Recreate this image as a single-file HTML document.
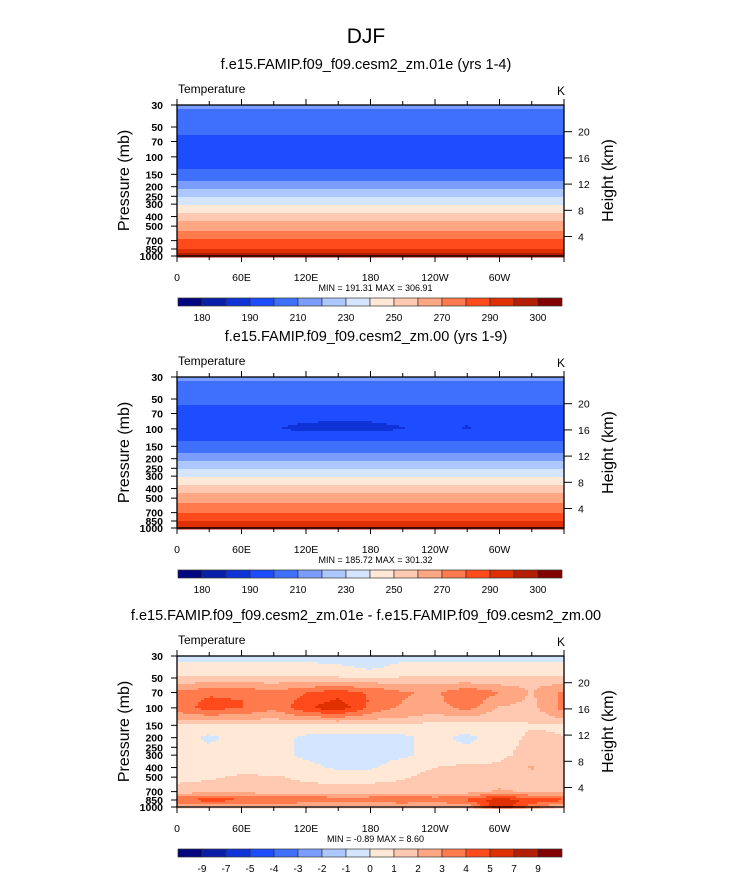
<!DOCTYPE html>
<html><head><meta charset="utf-8">
<style>
html,body{margin:0;padding:0;background:#fff;}
svg text{font-family:"Liberation Sans",sans-serif;fill:#000;}
</style></head>
<body>
<svg id="fig" width="733" height="872" viewBox="0 0 733 872" xmlns="http://www.w3.org/2000/svg">
<text x="366" y="43" font-size="21" text-anchor="middle">DJF</text>
</svg>
<script>
// ---- data ----
const lons = [0,30,60,90,120,150,180,210,240,270,300,330,360];
const levels = [30,40,50,60,70,85,100,125,150,200,300,400,500,700,850,1000];
const bounds1 = [180,185,190,200,210,220,230,240,250,260,270,280,290,295,300];
const bounds3 = [-9,-7,-5,-4,-3,-2,-1,0,1,2,3,4,5,7,9];
const cbLabels1 = ["180","190","210","230","250","270","290","300"];
const cbLabelIdx1 = [0,2,4,6,8,10,12,14];
const cbLabels3 = ["-9","-7","-5","-4","-3","-2","-1","0","1","2","3","4","5","7","9"];
const cbLabelIdx3 = [0,1,2,3,4,5,6,7,8,9,10,11,12,13,14];
const colors = ["#03067f","#0a1fa8","#0f33d7","#1e4cff","#3e6ffd","#7a9dff","#adc8ff","#d4e6ff","#ffe8d6","#ffc8b0","#ffa682","#ff7a4d","#ff4a1c","#e03000","#b41e05","#820000"];
const profile1 = [212,206,203,200,197,195,195,199,203,218,239,255,266,281,291,297];
const profile2 = [211.5,205.5,202.5,199.5,196.5,194.5,194.5,198.5,202.5,217.5,238.5,254.5,265.5,280.5,290.5,296];
const anom2at100 = [0,0,-1,-4,-7,-8,-7.5,-5,-1,-5.5,0,0,0];
const diff3 = [
[-0.3,-0.3,-0.3,-0.3,-0.3,-0.4,-0.5,-0.3,-0.3,-0.3,-0.3,-0.3,-0.3],
[0.4,0.4,0.4,0.4,0.3,0.2,-0.1,0.3,0.4,0.4,0.4,0.4,0.4],
[1.2,1.2,1.2,1.2,1.2,1.1,1.0,1.1,1.2,1.2,1.2,1.2,1.2],
[2.4,2.5,2.6,2.4,2.7,2.9,2.6,2.4,2.3,2.5,2.1,1.8,2.3],
[3.2,3.8,3.8,3.2,4.0,4.6,3.8,3.1,2.8,3.9,3.0,1.9,3.2],
[3.4,4.2,4.0,3.3,4.4,5.2,3.9,3.0,2.7,3.7,2.4,1.8,3.3],
[3.5,4.4,4.0,3.2,4.8,5.8,3.7,2.8,2.4,3.4,1.9,1.7,3.4],
[2.4,2.6,2.5,2.2,2.8,3.0,2.4,2.0,1.7,1.9,1.4,1.3,2.2],
[0.7,0.6,0.6,0.7,0.7,0.8,0.7,0.6,0.7,0.6,0.7,0.9,0.9],
[0.4,-0.2,0.3,0.4,-0.2,-0.3,-0.3,-0.2,0.3,-0.3,0.5,1.2,1.0],
[0.4,0.4,0.5,0.3,-0.2,-0.4,-0.4,-0.2,0.4,0.5,0.7,1.5,1.0],
[0.4,0.4,0.5,0.5,0.3,-0.2,-0.2,0.6,1.0,1.2,1.2,2.1,1.2],
[0.7,0.8,1.2,1.1,0.8,0.6,0.7,0.9,1.3,1.3,1.2,1.6,1.0],
[1.4,1.7,1.6,1.5,1.4,1.4,1.4,1.4,1.5,1.5,2.2,1.8,1.6],
[4.2,4.4,4.3,4.2,4.1,3.8,3.9,4.2,3.8,4.3,5.8,4.6,4.3],
[1.5,2.0,1.7,1.5,1.5,1.5,1.5,1.5,1.5,2.0,6.0,3.5,1.5]];
const pTicks = [30,50,70,100,150,200,250,300,400,500,700,850,1000];
const hTicks = [4,8,12,16,20];
const xTickLabels = ["0","60E","120E","180","120W","60W"];
const subtitles = ["f.e15.FAMIP.f09_f09.cesm2_zm.01e (yrs 1-4)","f.e15.FAMIP.f09_f09.cesm2_zm.00 (yrs 1-9)","f.e15.FAMIP.f09_f09.cesm2_zm.01e - f.e15.FAMIP.f09_f09.cesm2_zm.00"];
const minmax = ["MIN = 191.31  MAX = 306.91","MIN = 185.72  MAX = 301.32","MIN =  -0.89  MAX =   8.60"];

function grid1(){return levels.map((l,i)=>lons.map(()=>profile1[i]));}
function grid2(){return levels.map((l,i)=>lons.map((x,j)=>profile2[i]+((l===85||l===100)?anom2at100[j]*(l===100?1:0.6):0)));}
const panelGrids=[grid1(),grid2(),diff3];
const panelBounds=[bounds1,bounds1,bounds3];
const panelCbL=[cbLabels1,cbLabels1,cbLabels3];
const panelCbI=[cbLabelIdx1,cbLabelIdx1,cbLabelIdx3];

const NS="http://www.w3.org/2000/svg";
const svg=document.getElementById('fig');
function mk(tag,attrs,parent){const e=document.createElementNS(NS,tag);for(const k in attrs)e.setAttribute(k,attrs[k]);(parent||svg).appendChild(e);return e;}
const X0=177,W=387,H=151;
const tops=[105,377,656];
function colorFor(v,b){let k=0;while(k<b.length&&v>=b[k])k++;return colors[k];}
function interp(g,lon,p){
  let j=0;while(j<lons.length-2&&lon>lons[j+1])j++;
  let i=0;while(i<levels.length-2&&p>levels[i+1])i++;
  const tx=(lon-lons[j])/(lons[j+1]-lons[j]);
  const ty=(Math.log(p)-Math.log(levels[i]))/(Math.log(levels[i+1])-Math.log(levels[i]));
  const a=g[i][j]*(1-tx)+g[i][j+1]*tx, b=g[i+1][j]*(1-tx)+g[i+1][j+1]*tx;
  return a*(1-ty)+b*ty;
}
for(let pi=0;pi<3;pi++){
  const top=tops[pi];
  const xS=lon=>X0+lon/360*W;
  const yS=p=>top+Math.log(p/30)/Math.log(1000/30)*H;
  const hS=z=>top+26.7+(20-z)*6.55;
  const pInv=y=>30*Math.exp((y-top)/H*Math.log(1000/30));
  const g=mk('g',{},svg);
  
  
  const st=mk('text',{x:366,y:top-36,'font-size':14.5,'text-anchor':'middle'},g);st.textContent=subtitles[pi];
  
  
  const t1=mk('text',{x:X0+1,y:top-12,'font-size':12},g);t1.textContent='Temperature';
  
  
  const t2=mk('text',{x:X0+W-7,y:top-10,'font-size':12},g);t2.textContent='K';
  
  
  const cells=mk('g',{'shape-rendering':'crispEdges'},g);
  
  
  const dx=3,dy=2;
  for(let y=0;y<H;y+=dy){
    const p=pInv(top+y+dy/2);
    let runStart=0,runCol=null;
    for(let x=0;x<=W;x+=dx){
      let c=null;
      if(x<W){const lon=(x+dx/2)/W*360;c=colorFor(interp(panelGrids[pi],lon,p),panelBounds[pi]);}
      if(c!==runCol){
        if(runCol!==null){const r=mk('rect',{x:X0+runStart,y:top+y,width:Math.min(x,W)-runStart,height:dy+0.3,fill:runCol},cells);
          
          }
        runStart=x;runCol=c;
      }
    }
  }
  mk('rect',{x:X0,y:top,width:W,height:H,fill:'none',stroke:'#000','stroke-width':1.3},g);
  for(let lon=0;lon<=360;lon+=30){
    const major=lon%60===0,L=major?6:4;
    mk('line',{x1:xS(lon),x2:xS(lon),y1:top,y2:top-L,stroke:'#000','stroke-width':1},g);
    mk('line',{x1:xS(lon),x2:xS(lon),y1:top+H,y2:top+H+L,stroke:'#000','stroke-width':1},g);
    if(major&&lon<360){const t=mk('text',{x:xS(lon),y:top+H+25,'font-size':10.5,'text-anchor':'middle'},g);t.textContent=xTickLabels[lon/60];
      
      }
  }
  pTicks.forEach(p=>{
    mk('line',{x1:X0,x2:X0-6,y1:yS(p),y2:yS(p),stroke:'#000','stroke-width':1},g);
    const t=mk('text',{x:X0-14,y:yS(p)+4,'font-size':10.5,'text-anchor':'end','font-weight':'bold'},g);t.textContent=p;
    
    
  });
  hTicks.forEach(h=>{
    const y=hS(h);
    mk('line',{x1:X0+W,x2:X0+W+8,y1:y,y2:y,stroke:'#000','stroke-width':1},g);
    const t=mk('text',{x:X0+W+14,y:y+4,'font-size':10.5},g);t.textContent=h;
    
    
  });
  const yl=mk('text',{x:0,y:0,'font-size':16,'text-anchor':'middle',transform:`translate(129,${top+H/2}) rotate(-90)`},g);yl.textContent='Pressure (mb)';
  
  
  const yr=mk('text',{x:0,y:0,'font-size':16,'text-anchor':'middle',transform:`translate(613,${top+H/2}) rotate(-90)`},g);yr.textContent='Height (km)';
  
  
  const mm=mk('text',{x:X0+W/2+5,y:top+H+35,'font-size':9,'text-anchor':'middle'},g);mm.textContent=minmax[pi];
  
  
  const cb=mk('g',{},g);
  
  
  const cbx=178,cbw=384,cby=top+H+42,cbh=8,bw=cbw/16;
  colors.forEach((c,k)=>{const r=mk('rect',{x:cbx+k*bw,y:cby,width:bw,height:cbh,fill:c,stroke:'#333','stroke-width':0.7},cb);
    
    });
  panelCbI[pi].forEach((bi,n)=>{const t=mk('text',{x:cbx+(bi+1)*bw,y:cby+cbh+15,'font-size':10,'text-anchor':'middle'},cb);t.textContent=panelCbL[pi][n];
    
    });
}
</script>
</body></html>
